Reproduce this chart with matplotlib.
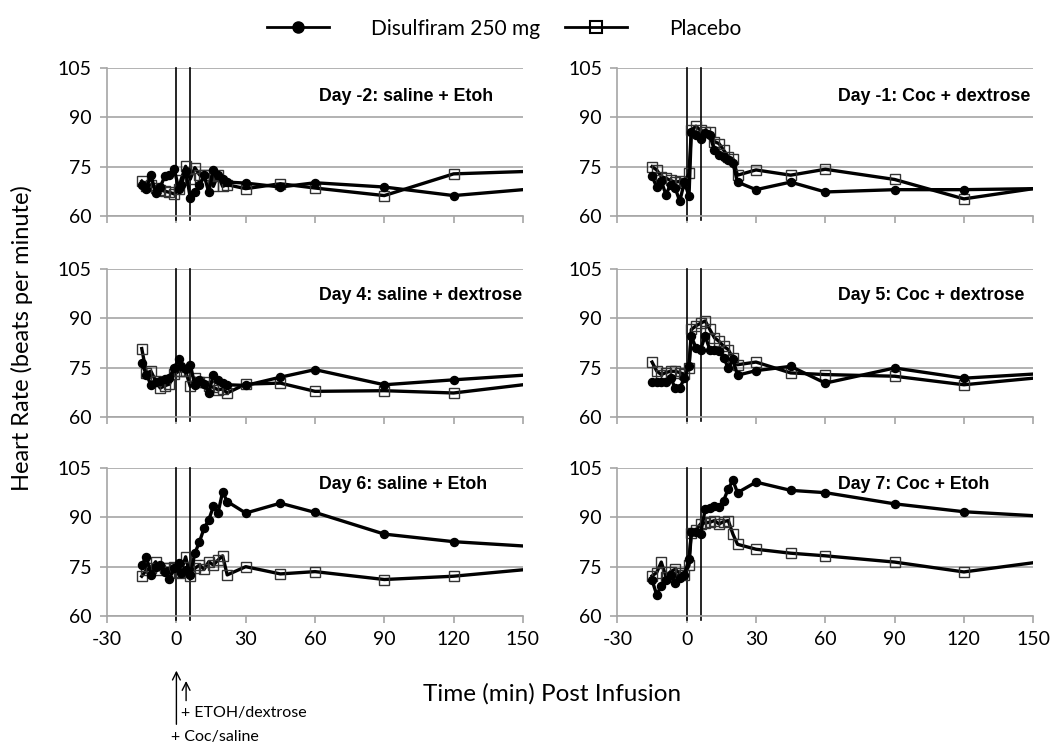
import matplotlib.pyplot as plt
from matplotlib.lines import Line2D

plt.rcParams['font.family'] = ['Lato', 'DejaVu Sans']
plt.rcParams['axes.unicode_minus'] = False

# minutes relative to the cocaine/saline infusion
time = [-15, -13, -11, -9, -7, -5, -3, -1, 1, 2, 4, 6, 8, 10, 12, 14, 16, 18, 20, 22,
        30, 45, 60, 90, 120, 180]

titles = ['Day -2: saline + Etoh', 'Day -1: Coc + dextrose',
          'Day 4: saline + dextrose', 'Day 5: Coc + dextrose',
          'Day 6: saline + Etoh', 'Day 7: Coc + Etoh']

dis_m2 = [69.3, 68.3, 72.4, 67.0, 68.8, 72.1, 72.4, 74.4, 68.3, 69.3, 73.8, 65.5, 67.2,
          69.3, 72.4, 67.2, 74.0, 72.4, 71.3, 70.3, 70, 68.8, 70.1, 68.8, 66.2, 69.8]
pla_m2 = [70.6, 69, 69.5, 68.5, 68, 67.5, 67.2, 66.7, 68.2, 71, 75.1, 71.2, 74.7,
          72.5, 72.5, 72.5, 69, 72.5, 69, 69.5, 68.3, 69.8, 68.5, 66.2, 72.8, 74.2]
dis_m1 = [72.1, 68.8, 70.6, 66.5, 69.5, 68.5, 64.5, 70.3, 66, 85.6, 84.6, 83.5, 85.2,
          84.5, 80, 78.5, 78, 77, 76, 70.3, 68, 70.3, 67.3, 68, 68, 68.6]
pla_m1 = [75, 74, 72, 71.5, 70.8, 70.3, 70.5, 70, 73, 86.1, 87.3, 86, 85.6,
          85.6, 82.6, 82, 80, 78, 77.4, 72.4, 74, 72.4, 74.2, 71.1, 65.2, 71.4]
dis_d4 = [76.4, 72.9, 69.8, 70.5, 71, 71.5, 72, 74.9, 77.5, 75.5, 74.5, 75.9, 69.8,
          71.3, 70, 67.3, 72.8, 71.3, 70.3, 69.8, 69.6, 72.1, 74.4, 69.8, 71.3, 74.1]
pla_d4 = [80.8, 73.4, 73.9, 71, 68.8, 69.5, 70, 73, 73.9, 74, 73.9, 69.3, 71.8,
          70.5, 70.6, 69.5, 69, 68.3, 68.5, 67.3, 70, 70.3, 67.8, 68, 67.3, 72.3]
dis_d5 = [70.6, 70.6, 70.6, 70.6, 72, 68.8, 68.8, 71.8, 75.5, 84.6, 81, 80.5, 84.6,
          80.5, 80.5, 80, 78, 74.9, 77.5, 72.7, 74.1, 75.4, 70.3, 74.9, 71.8, 74.3]
pla_d5 = [76.7, 74, 72.9, 73.5, 73.9, 73.9, 73.5, 73, 74.9, 86.6, 87.7, 88.5, 89.2,
          86.6, 84.1, 83, 81.5, 80.5, 77.9, 75.9, 76.7, 73.4, 72.9, 72.4, 69.8, 73.8]
dis_d6 = [75.5, 78, 72.5, 75, 75.5, 73.5, 71.4, 74.5, 76, 73, 74, 72.5, 79.1,
          82.6, 86.7, 89.2, 93.3, 91.3, 97.7, 94.8, 91.3, 94.3, 91.5, 84.9, 82.6, 80]
pla_d6 = [72.1, 74, 74.5, 76.5, 74, 74.5, 74.5, 75, 73, 73.5, 78, 72.1, 74.5,
          75.5, 74.2, 76.5, 75.5, 77, 78.3, 72.5, 75, 72.8, 73.5, 71.1, 72.1, 76]
dis_d7 = [70.9, 66.5, 69.1, 71.1, 72.5, 70.1, 71.5, 72.5, 77.3, 85.4, 85.4, 85, 92.4,
          92.8, 93.4, 93.1, 95.1, 98.7, 101.2, 97.5, 100.7, 98.2, 97.5, 94.1, 91.7, 89.3]
pla_d7 = [72.2, 73.2, 76.4, 72, 73.5, 74.2, 73, 72.5, 75.4, 85.2, 86, 88, 88.3,
          88.5, 89, 88, 88.7, 89, 84.9, 81.8, 80.3, 79.1, 78.3, 76.4, 73.4, 79]

disulfiram = [dis_m2, dis_m1, dis_d4, dis_d5, dis_d6, dis_d7]
placebo = [pla_m2, pla_m1, pla_d4, pla_d5, pla_d6, pla_d7]

fig = plt.figure(figsize=(10.5, 7.44), dpi=100)
lefts = [0.102, 0.588]
bottoms = [0.7097, 0.4395, 0.172]
title_y = [0.81, 0.82, 0.89]
grey = '#a6a6a6'

axes = []
for i in range(6):
    row, col = divmod(i, 2)
    ax = fig.add_axes([lefts[col], bottoms[row], 0.396, 0.199])
    axes.append(ax)
    ax.plot(time, placebo[i], color='black', lw=2.4, marker='s', ms=7,
            mfc='none', mec='#333333', mew=1.0, zorder=3)
    ax.plot(time, disulfiram[i], color='black', lw=2.4, marker='o', ms=5.8, zorder=4)
    ax.axvline(0, ymin=-0.03, ymax=1, color='black', lw=1.2, clip_on=False, zorder=2)
    ax.axvline(6, ymin=-0.03, ymax=1, color='black', lw=1.2, clip_on=False, zorder=2)
    ax.set_xlim(-30, 150)
    ax.set_ylim(60, 105)
    ax.set_xticks(range(-30, 151, 30))
    ax.set_yticks([60, 75, 90, 105])
    ax.grid(axis='y', color=grey, lw=1.2)
    ax.set_axisbelow(True)
    for s in ['top', 'right']:
        ax.spines[s].set_visible(False)
    for s in ['left', 'bottom']:
        ax.spines[s].set_color(grey)
        ax.spines[s].set_linewidth(1.2)
    ax.tick_params(direction='out', length=5, color=grey, width=1.2,
                   labelsize=14, pad=6)
    if row < 2:
        ax.tick_params(labelbottom=False)
    ax.text(0.51 if col == 0 else 0.53, title_y[row], titles[i], transform=ax.transAxes,
            ha='left', va='center', fontsize=12.8, fontweight='bold',
            family='Liberation Sans')

# infusion markers below the lower left panel
ax = axes[4]
ax.annotate('', xy=(0, -0.35), xytext=(0, -0.75), xycoords=('data', 'axes fraction'),
            arrowprops=dict(arrowstyle='->', lw=1, color='black', mutation_scale=14),
            annotation_clip=False)
ax.annotate('', xy=(4.2, -0.42), xytext=(4.2, -0.59), xycoords=('data', 'axes fraction'),
            arrowprops=dict(arrowstyle='->', lw=1, color='black', mutation_scale=14),
            annotation_clip=False)
ax.annotate('+ ETOH/dextrose', xy=(2.2, -0.655), xycoords=('data', 'axes fraction'),
            va='center', ha='left', fontsize=11.5, annotation_clip=False)
ax.annotate('+ Coc/saline', xy=(-2.2, -0.82), xycoords=('data', 'axes fraction'),
            va='center', ha='left', fontsize=11.5, annotation_clip=False)

fig.text(0.021, 0.546, 'Heart Rate (beats per minute)', rotation=90,
         ha='center', va='center', fontsize=17)
fig.text(0.526, 0.068, 'Time (min) Post Infusion', ha='center', va='center', fontsize=17.5)

handles = [Line2D([], [], color='black', lw=2, marker='o', ms=8),
           Line2D([], [], color='black', lw=2, marker='s', ms=8, mfc='none', mew=1.5)]
fig.legend(handles, ['Disulfiram 250 mg', 'Placebo'], loc='upper center',
           bbox_to_anchor=(0.48, 1.0), ncol=2, frameon=False, fontsize=15,
           handlelength=3, handletextpad=2, columnspacing=1.2)

fig.savefig('out.png', dpi=100)
